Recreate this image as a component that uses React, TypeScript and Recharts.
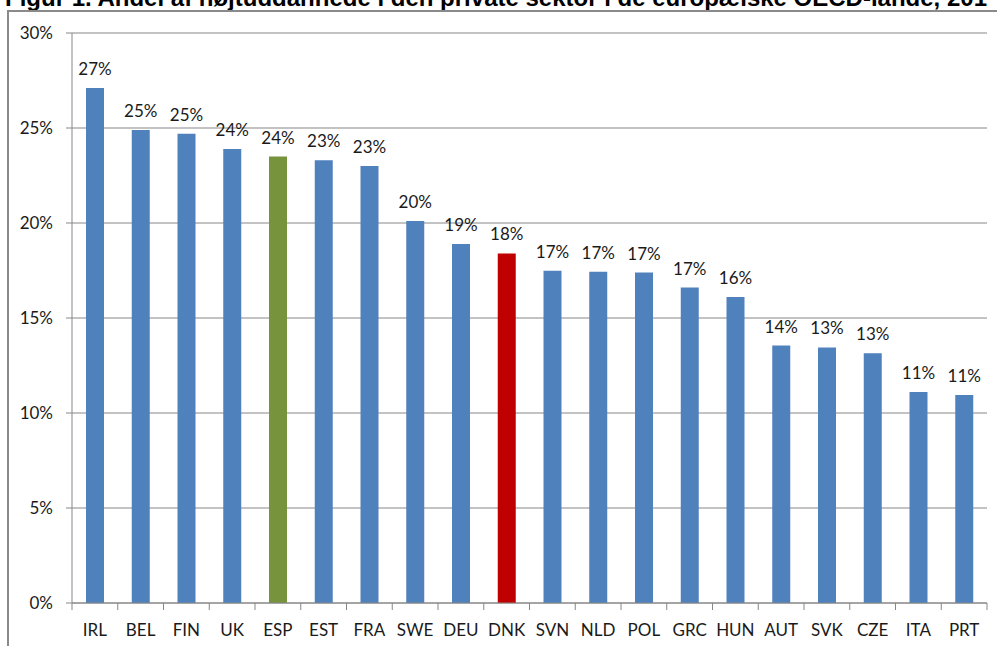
import React from 'react';
import { BarChart, Bar, XAxis, YAxis, CartesianGrid, Cell, LabelList } from 'recharts';

const countries = ['IRL', 'BEL', 'FIN', 'UK', 'ESP', 'EST', 'FRA', 'SWE', 'DEU', 'DNK', 'SVN', 'NLD', 'POL', 'GRC', 'HUN', 'AUT', 'SVK', 'CZE', 'ITA', 'PRT'];
const shares = [27.1, 24.9, 24.7, 23.9, 23.5, 23.3, 23.0, 20.1, 18.9, 18.4, 17.49, 17.44, 17.39, 16.6, 16.1, 13.55, 13.45, 13.15, 11.1, 10.95];
const yTicks = [0, 5, 10, 15, 20, 25, 30];
const titleText = 'Figur 1. Andel af højtuddannede i den private sektor i de europæiske OECD-lande, 201';

const highlight: Record<string, string> = { ESP: '#77933C', DNK: '#C00000' };
const BASE_COLOR = '#4F81BD';

const data = countries.map((c, i) => ({ country: c, share: shares[i] }));

const W = 997;
const H = 646;
const M = { top: 33, right: 10, bottom: 0, left: 0 };
const Y_W = 72;
const X_H = 43;
const PLOT_W = W - M.left - M.right - Y_W;
const STEP = PLOT_W / countries.length;
const FONT = 'Lato, Carlito, Calibri, sans-serif';
const GRID = '#878787';

const XTick = (props: any) => {
  const { x, y, payload, index } = props;
  const last = index === countries.length - 1;
  return (
    <g>
      <line x1={x - STEP / 2} x2={x - STEP / 2} y1={y} y2={y + 7} stroke={GRID} strokeWidth={1} />
      {last && <line x1={x + STEP / 2} x2={x + STEP / 2} y1={y} y2={y + 7} stroke={GRID} strokeWidth={1} />}
      <text x={x} y={y + 33} textAnchor="middle" fontFamily={FONT} fontSize={17} fill="#1a1a1a">
        {payload.value}
      </text>
    </g>
  );
};

export default function App() {
  return (
    <div style={{ position: 'absolute', left: 0, top: 0, width: W, height: H, overflow: 'hidden', background: '#fff' }}>
      <svg width={W} height={20} style={{ position: 'absolute', left: 0, top: 0 }}>
        <text x={5} y={6} fontFamily="'Liberation Sans', Arial, sans-serif" fontWeight="bold" fontSize={24} fill="#000">
          {titleText}
        </text>
      </svg>
      <div
        style={{
          position: 'absolute',
          left: 7,
          top: 10,
          width: W,
          height: H,
          borderLeft: '2px solid #8a8a8a',
          borderTop: '2px solid #8a8a8a',
          boxSizing: 'border-box',
        }}
      />
      <div style={{ position: 'absolute', left: 0, top: 0 }}>
        <BarChart width={W} height={H} data={data} margin={M}>
          <CartesianGrid horizontal={true} vertical={false} stroke={GRID} strokeWidth={1} />
          <XAxis
            dataKey="country"
            height={X_H}
            interval={0}
            tickLine={false}
            tickSize={0}
            tickMargin={0}
            axisLine={{ stroke: GRID }}
            tick={<XTick />}
          />
          <YAxis
            width={Y_W}
            domain={[0, 30]}
            ticks={yTicks}
            interval={0}
            tickFormatter={(v: number) => `${v}%`}
            tickSize={6}
            tickMargin={13}
            tickLine={{ stroke: GRID }}
            axisLine={{ stroke: GRID }}
            tick={{ fontFamily: FONT, fontSize: 17, fill: '#1a1a1a' }}
          />
          <Bar dataKey="share" barSize={18} isAnimationActive={false}>
            {data.map((d) => (
              <Cell key={d.country} fill={highlight[d.country] || BASE_COLOR} />
            ))}
            <LabelList
              dataKey="share"
              position="top"
              offset={13}
              formatter={(v: any) => `${Math.round(Number(v))}%`}
              style={{ fontFamily: FONT, fontSize: 17, fill: '#1a1a1a' }}
            />
          </Bar>
        </BarChart>
      </div>
    </div>
  );
}
